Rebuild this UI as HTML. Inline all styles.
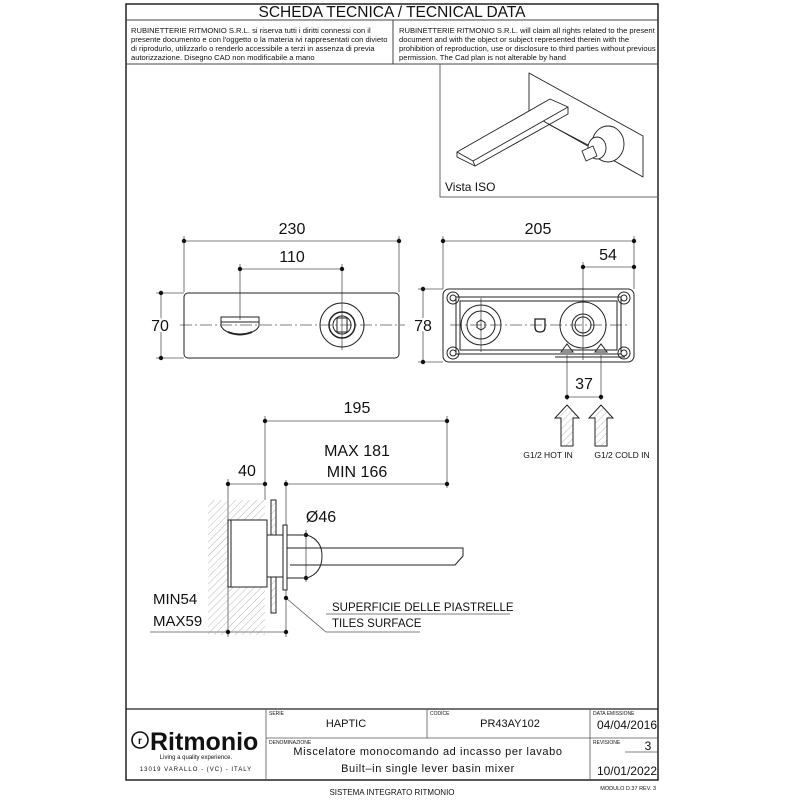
<!DOCTYPE html>
<html><head><meta charset="utf-8"><style>
html,body{margin:0;padding:0;background:#fff}
svg{display:block}
text{font-family:"Liberation Sans",Arial,sans-serif;fill:#111}
</style></head><body>
<svg width="800" height="800" viewBox="0 0 800 800" xmlns="http://www.w3.org/2000/svg">
<defs>
<pattern id="h" width="5" height="5" patternUnits="userSpaceOnUse" patternTransform="rotate(45)">
<line x1="0" y1="0" x2="0" y2="5" stroke="#999" stroke-width="0.7"/></pattern>
</defs>
<!-- frame -->
<rect x="126" y="4" width="532" height="776" fill="none" stroke="#222" stroke-width="1.5"/>
<line x1="126" y1="20" x2="658" y2="20" stroke="#444"/>
<line x1="126" y1="64" x2="658" y2="64" stroke="#444"/>
<line x1="393" y1="20" x2="393" y2="64" stroke="#444"/>
<text x="392" y="17" font-size="15.5" text-anchor="middle">SCHEDA TECNICA / TECNICAL DATA</text>
<g font-size="7.6">
<text x="131" y="33">RUBINETTERIE RITMONIO S.R.L. si riserva tutti i diritti connessi con il</text>
<text x="131" y="42">presente documento e con l'oggetto o la materia ivi rappresentati con divieto</text>
<text x="131" y="51">di riprodurlo, utilizzarlo o renderlo accessibile a terzi in assenza di previa</text>
<text x="131" y="60">autorizzazione. Disegno CAD non modificabile a mano</text>
<text x="399" y="33">RUBINETTERIE RITMONIO S.R.L. will claim all rights related to the present</text>
<text x="399" y="42">document and with the object or subject represented therein with the</text>
<text x="399" y="51">prohibition  of reproduction, use or disclosure to third parties without previous</text>
<text x="399" y="60">permission.  The Cad plan is not alterable by hand</text>
</g>
<!-- ISO box -->
<path d="M440 64 V197 H658" fill="none" stroke="#666"/>
<text x="445" y="191" font-size="12">Vista ISO</text>
<g fill="none" stroke="#222" stroke-width="0.9" stroke-linejoin="round">
<polygon points="529,73 643,136 643,177 529,113" fill="#fff"/>
<line x1="548" y1="124" x2="590" y2="146"/>
<polygon points="457,152 550,99 568,107 473,161" fill="#fff"/>
<path d="M457,152 V157 L475,166 L568,114 V107"/>
<path d="M473,161 L475,166"/>
<ellipse cx="608" cy="144" rx="16" ry="18" fill="#fff"/>
<ellipse cx="597" cy="148" rx="9" ry="11" fill="#fff"/>
<polygon points="582,151 593,146 597,156 586,161" fill="#fff"/>
</g>
<!-- front view -->
<g stroke="#555" stroke-width="0.8" fill="none">
<line x1="184" y1="241" x2="399" y2="241"/><line x1="240" y1="269" x2="342" y2="269"/>
<line x1="184" y1="236" x2="184" y2="292"/><line x1="399" y1="236" x2="399" y2="292"/>
<line x1="240" y1="264" x2="240" y2="320"/><line x1="342" y1="264" x2="342" y2="350"/>
<line x1="161" y1="293" x2="161" y2="358"/><line x1="156" y1="293" x2="184" y2="293"/><line x1="156" y1="358" x2="184" y2="358"/>
<line x1="180" y1="325" x2="405" y2="325" stroke-dasharray="12,3,2,3"/>
<line x1="443" y1="241" x2="634" y2="241"/><line x1="583" y1="267" x2="634" y2="267"/>
<line x1="443" y1="236" x2="443" y2="289"/><line x1="634" y1="236" x2="634" y2="289"/>
<line x1="583" y1="262" x2="583" y2="360"/>
<line x1="423" y1="289" x2="423" y2="362"/><line x1="418" y1="289" x2="443" y2="289"/><line x1="418" y1="362" x2="443" y2="362"/>
<line x1="567" y1="355" x2="567" y2="400"/><line x1="601" y1="355" x2="601" y2="400"/><line x1="567" y1="397" x2="601" y2="397"/>
<line x1="450" y1="325" x2="630" y2="325" stroke-dasharray="12,3,2,3"/>
<line x1="481" y1="298" x2="481" y2="352"/>
</g>
<g fill="#111">
<circle cx="184" cy="241" r="2.2"/><circle cx="399" cy="241" r="2.2"/><circle cx="240" cy="269" r="2.2"/><circle cx="342" cy="269" r="2.2"/>
<circle cx="161" cy="293" r="2.2"/><circle cx="161" cy="358" r="2.2"/>
<circle cx="443" cy="241" r="2.2"/><circle cx="634" cy="241" r="2.2"/><circle cx="583" cy="267" r="2.2"/><circle cx="634" cy="267" r="2.2"/>
<circle cx="423" cy="289" r="2.2"/><circle cx="423" cy="362" r="2.2"/><circle cx="567" cy="397" r="2.2"/><circle cx="601" cy="397" r="2.2"/>
</g>
<g font-size="16" text-anchor="middle">
<text x="292" y="234">230</text><text x="292" y="262">110</text>
<text x="160" y="331" style="paint-order:stroke" stroke="#fff" stroke-width="4">70</text>
<text x="538" y="234">205</text><text x="608" y="260">54</text>
<text x="423" y="331" style="paint-order:stroke" stroke="#fff" stroke-width="4">78</text>
<text x="584" y="389">37</text>
</g>
<g fill="none" stroke="#222" stroke-width="1">
<rect x="184" y="293" width="215" height="65" rx="4"/>
<path d="M221,317 H259 V326 Q255,334 240,334 Q225,334 221,326 Z"/>
<line x1="221" y1="322" x2="259" y2="322"/>
<path d="M228,332 Q240,337 252,332" stroke-width="2"/>
<circle cx="342" cy="325" r="22"/><circle cx="342" cy="325" r="13" stroke-width="1.5"/><circle cx="342" cy="325" r="9"/>
<rect x="337" y="318" width="10" height="14"/>
<rect x="443" y="289" width="191" height="73" rx="6"/>
<rect x="456" y="297" width="165" height="57"/>
<rect x="460" y="301" width="157" height="49"/>
<circle cx="453" cy="298" r="6"/><circle cx="453" cy="298" r="3"/>
<circle cx="624" cy="298" r="6"/><circle cx="624" cy="298" r="3"/>
<circle cx="453" cy="353" r="6"/><circle cx="453" cy="353" r="3"/>
<circle cx="624" cy="353" r="6"/><circle cx="624" cy="353" r="3"/>
<circle cx="481" cy="325" r="20"/><circle cx="481" cy="325" r="14"/><polygon points="481,320 485,322.5 485,327.5 481,330 477,327.5 477,322.5"/>
<circle cx="583" cy="325" r="23"/><circle cx="583" cy="325" r="11"/><circle cx="583" cy="325" r="8"/>
<path d="M535,319 H545 V327 Q545,332 540,332 Q535,332 535,327 Z" stroke-width="1.3"/>
<path d="M561,352 L567,344 L573,352 Z"/><path d="M595,352 L601,344 L607,352 Z"/>
<line x1="555" y1="357" x2="625" y2="357"/>
<path d="M567,405 L579,418 H573 V446 H561 V418 H555 Z" fill="url(#h)"/>
<path d="M601,405 L613,418 H607 V446 H595 V418 H589 Z" fill="url(#h)"/>
</g>
<g font-size="8.5" text-anchor="middle">
<text x="548" y="458">G1/2 HOT IN</text><text x="622" y="458">G1/2 COLD IN</text>
</g>
<!-- side view -->
<g stroke="#555" stroke-width="0.8" fill="none">
<line x1="265" y1="421" x2="447" y2="421"/><line x1="447" y1="416" x2="447" y2="488"/><line x1="265" y1="416" x2="265" y2="500"/>
<line x1="228" y1="484" x2="265" y2="484"/><line x1="286" y1="484" x2="447" y2="484"/>
<line x1="228" y1="479" x2="228" y2="637"/><line x1="286" y1="480" x2="286" y2="637"/>
<line x1="150" y1="632" x2="286" y2="632"/>
<line x1="306" y1="530" x2="306" y2="582"/>
<path d="M286,598 L326,632 H420"/><line x1="326" y1="614" x2="510" y2="614"/>
</g>
<g fill="#111">
<circle cx="265" cy="421" r="2.2"/><circle cx="447" cy="421" r="2.2"/><circle cx="228" cy="484" r="2.2"/><circle cx="265" cy="484" r="2.2"/>
<circle cx="286" cy="484" r="2.2"/><circle cx="447" cy="484" r="2.2"/><circle cx="306" cy="535" r="2.2"/><circle cx="306" cy="578" r="2.2"/>
<circle cx="228" cy="632" r="2.2"/><circle cx="286" cy="632" r="2.2"/><circle cx="286" cy="598" r="2.2"/>
</g>
<rect x="208" y="500" width="57" height="135" fill="url(#h)"/>
<g fill="none" stroke="#222" stroke-width="1">
<rect x="228" y="520" width="39" height="67" fill="#fff"/>
<line x1="231" y1="520" x2="231" y2="587"/>
<rect x="271" y="500" width="5" height="113" fill="url(#h)"/>
<rect x="267" y="535" width="17" height="42" fill="#fff"/>
<rect x="283" y="525" width="4" height="65" fill="#fff"/>
<path d="M287,535 H307 Q322,540 322,556 Q322,573 307,578 H287"/>
<path d="M287,548 H463 V556 L455,565 H290"/>
</g>
<g font-size="16" text-anchor="middle">
<text x="357" y="413">195</text><text x="357" y="456">MAX 181</text><text x="357" y="477">MIN 166</text>
<text x="247" y="476">40</text><text x="321" y="522">Ø46</text>
</g>
<g font-size="15"><text x="153" y="604">MIN54</text><text x="153" y="626">MAX59</text></g>
<g font-size="11.5"><text x="332" y="611">SUPERFICIE DELLE PIASTRELLE</text><text x="332" y="627">TILES SURFACE</text></g>
<!-- title block -->
<g stroke="#555" stroke-width="0.8" fill="none">
<line x1="126" y1="709" x2="658" y2="709" stroke="#222" stroke-width="1.2"/>
<line x1="266" y1="709" x2="266" y2="780"/><line x1="427" y1="709" x2="427" y2="738"/><line x1="590" y1="709" x2="590" y2="780"/>
<line x1="266" y1="738" x2="658" y2="738"/><line x1="625" y1="752" x2="658" y2="752"/>
</g>
<g font-size="5" fill="#aaa"><text x="269" y="715" fill="#aaa">SERIE</text><text x="430" y="715" fill="#aaa">CODICE</text><text x="593" y="715" fill="#aaa">DATA EMISSIONE</text><text x="269" y="744" fill="#aaa">DENOMINAZIONE</text><text x="593" y="744" fill="#aaa">REVISIONE</text></g>
<g font-size="11" fill="#444">
<text x="346" y="727" text-anchor="middle" fill="#444">HAPTIC</text>
<text x="510" y="727" text-anchor="middle" fill="#444">PR43AY102</text>
<text x="657" y="729" text-anchor="end" font-size="12" fill="#444">04/04/2016</text>
<text x="648" y="750" font-size="12" fill="#444" text-anchor="middle">3</text>
<text x="657" y="775" text-anchor="end" font-size="12" fill="#444">10/01/2022</text>
<text x="428" y="755" text-anchor="middle" letter-spacing="0.6" fill="#444">Miscelatore monocomando ad incasso per lavabo</text>
<text x="428" y="772" text-anchor="middle" letter-spacing="0.6" fill="#444">Built–in single lever basin mixer</text>
</g>
<circle cx="140" cy="740" r="8" fill="none" stroke="#111" stroke-width="1.6"/>
<text x="140" y="744" font-size="10" font-weight="bold" text-anchor="middle">r</text>
<text x="150" y="750" font-size="25" font-weight="bold">Ritmonio</text>
<text x="196" y="759" font-size="6" text-anchor="middle">Living a quality experience.</text>
<text x="196" y="771" font-size="6" text-anchor="middle" letter-spacing="1">13019 VARALLO - (VC) - ITALY</text>
<text x="392" y="795" font-size="8" text-anchor="middle">SISTEMA INTEGRATO RITMONIO</text>
<text x="656" y="790" font-size="5.5" text-anchor="end">MODULO D.37 REV. 3</text>
</svg>
</body></html>
